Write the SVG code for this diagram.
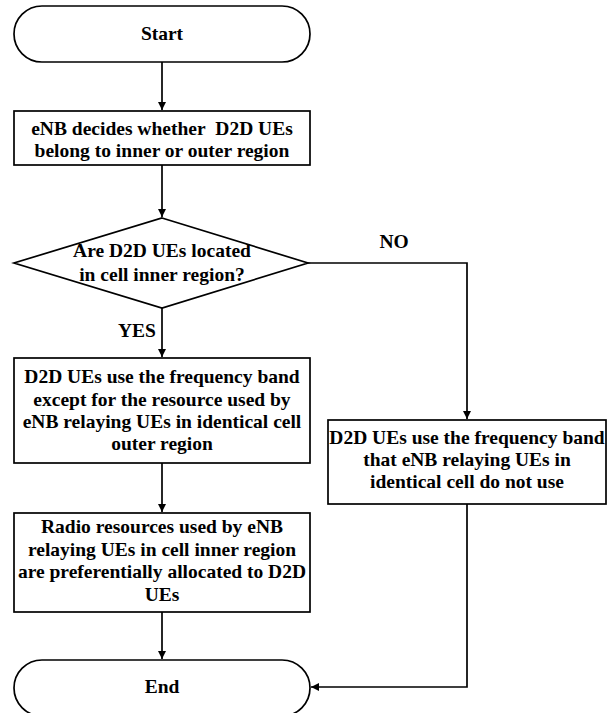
<svg xmlns="http://www.w3.org/2000/svg" width="614" height="713" viewBox="0 0 614 713">
<style>
.s{fill:#fff;stroke:#000;stroke-width:1.7}
.t{font-family:"Liberation Serif","Times New Roman",serif;font-weight:bold;font-size:19.5px;text-anchor:middle;fill:#000}
.c{fill:none;stroke:#000;stroke-width:1.7}
</style>
<defs>
<marker id="a" markerWidth="10" markerHeight="10" refX="9" refY="5" orient="auto" markerUnits="userSpaceOnUse">
<path d="M1,1 L9,5 L1,9 Z" fill="#000"/>
</marker>
</defs>
<rect width="614" height="713" fill="#fff"/>
<g id="connectors">
<path class="c" d="M162,62 V110" marker-end="url(#a)"/>
<path class="c" d="M162,165 V217" marker-end="url(#a)"/>
<path class="c" d="M162,308 V357" marker-end="url(#a)"/>
<path class="c" d="M162,463 V512" marker-end="url(#a)"/>
<path class="c" d="M162,612 V659" marker-end="url(#a)"/>
<path class="c" d="M308,263 H467 V419" marker-end="url(#a)"/>
<path class="c" d="M467,504 V687 H311" marker-end="url(#a)"/>
<text class="t" x="137" y="337">YES</text>
<text class="t" x="394" y="248">NO</text>
</g>
<g id="start">
<rect class="s" x="14" y="6" width="296" height="56" rx="28" ry="28"/>
<text class="t" x="162" y="40">Start</text>
</g>
<g id="decide">
<rect class="s" x="14" y="111" width="296" height="54"/>
<text class="t" x="162" y="135">eNB decides whether&#160; D2D UEs</text>
<text class="t" x="162" y="157">belong to inner or outer region</text>
</g>
<g id="question">
<polygon class="s" points="162,218 308,263 162,308 14,263"/>
<text class="t" x="162" y="257">Are D2D UEs located</text>
<text class="t" x="162" y="281">in cell inner region?</text>
</g>
<g id="inner">
<rect class="s" x="14" y="358" width="296" height="105"/>
<text class="t" x="162" y="383">D2D UEs use the frequency band</text>
<text class="t" x="162" y="405.5">except for the resource used by</text>
<text class="t" x="162" y="428">eNB relaying UEs in identical cell</text>
<text class="t" x="162" y="450">outer region</text>
</g>
<g id="allocate">
<rect class="s" x="14" y="513" width="296" height="99"/>
<text class="t" x="162" y="533">Radio resources used by eNB</text>
<text class="t" x="162" y="556">relaying UEs in cell inner region</text>
<text class="t" x="162" y="578">are preferentially allocated to D2D</text>
<text class="t" x="162" y="601">UEs</text>
</g>
<g id="outer">
<rect class="s" x="328" y="420" width="278" height="84"/>
<text class="t" x="467" y="444">D2D UEs use the frequency band</text>
<text class="t" x="467" y="466">that eNB relaying UEs in</text>
<text class="t" x="467" y="488">identical cell do not use</text>
</g>
<g id="end">
<rect class="s" x="14" y="660" width="296" height="56" rx="28" ry="28"/>
<text class="t" x="162" y="693">End</text>
</g>
</svg>
